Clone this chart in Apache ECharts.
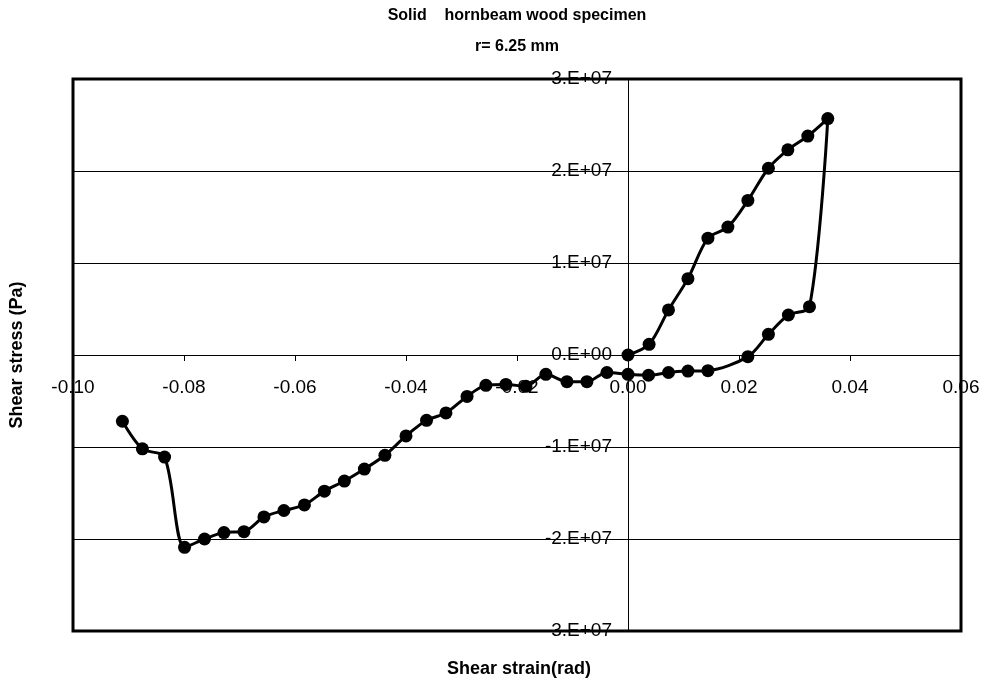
<!DOCTYPE html>
<html>
<head>
<meta charset="utf-8">
<script src="https://cdn.jsdelivr.net/npm/echarts@6/dist/echarts.min.js"></script>
<style>
html,body{margin:0;padding:0;background:#fff;}
#chart{width:989px;height:686px;}
</style>
</head>
<body>
<div id="chart"></div>
<script>
// Shear strain (rad), in drawing order
var strain = [0.0000, 0.0038, 0.0073, 0.0108, 0.0144, 0.0180, 0.0216, 0.0253, 0.0288, 0.0324, 0.0360,
  0.0327, 0.0289, 0.0253, 0.0216,
  0.0144, 0.0108, 0.0073, 0.0037, 0.0000, -0.0038, -0.0074, -0.0110, -0.0148, -0.0184, -0.0220,
  -0.0256, -0.0290, -0.0328, -0.0363, -0.0400, -0.0438, -0.0475, -0.0511, -0.0547, -0.0583,
  -0.0620, -0.0656, -0.0692, -0.0728, -0.0763, -0.0799, -0.0835, -0.0875, -0.0911];
// Shear stress (Pa)
var stress = [0, 1.16e6, 4.9e6, 8.3e6, 12.7e6, 13.9e6, 16.8e6, 20.3e6, 22.3e6, 23.8e6, 25.7e6,
  5.25e6, 4.35e6, 2.25e6, -0.18e6,
  -1.7e6, -1.75e6, -1.9e6, -2.2e6, -2.1e6, -1.9e6, -2.9e6, -2.9e6, -2.1e6, -3.4e6, -3.2e6,
  -3.3e6, -4.5e6, -6.3e6, -7.1e6, -8.8e6, -10.9e6, -12.4e6, -13.7e6, -14.8e6, -16.3e6,
  -16.9e6, -17.6e6, -19.2e6, -19.3e6, -20.0e6, -20.9e6, -11.1e6, -10.2e6, -7.2e6];
var xTickLabels = ['-0.10', '-0.08', '-0.06', '-0.04', '-0.02', '0.00', '0.02', '0.04', '0.06'];
var yTickLabels = ['3.E+07', '-2.E+07', '-1.E+07', '0.E+00', '1.E+07', '2.E+07', '3.E+07'];
var titleText = 'Solid    hornbeam wood specimen';
var subtitleText = 'r= 6.25 mm';
var xName = 'Shear strain(rad)';
var yName = 'Shear stress (Pa)';

var pts = strain.map(function (x, i) { return [x, stress[i]]; });
var FONT = '"Liberation Sans", Arial, sans-serif';

var chart = echarts.init(document.getElementById('chart'));
chart.setOption({
  animation: false,
  backgroundColor: '#fff',
  grid: { left: 73, top: 79, width: 888, height: 552, containLabel: false, outerBoundsMode: 'none',
    show: true, borderColor: '#000', borderWidth: 3, backgroundColor: 'transparent', z: 3 },
  xAxis: {
    type: 'value', min: -0.1, max: 0.06, interval: 0.02,
    position: 'bottom', offset: -276,
    axisLine: { onZero: false, lineStyle: { color: '#000', width: 1 } },
    axisTick: { show: true, inside: false, length: 6, lineStyle: { color: '#000' } },
    axisLabel: { margin: 23, color: '#000', fontFamily: FONT, fontSize: 19, hideOverlap: false,
      formatter: function (v) { return xTickLabels[Math.round((v + 0.1) / 0.02)]; } },
    splitLine: { show: false }
  },
  yAxis: {
    type: 'value', min: -3e7, max: 3e7, interval: 1e7,
    position: 'left', offset: -555,
    axisLine: { onZero: false, lineStyle: { color: '#000', width: 1 } },
    axisTick: { show: false },
    axisLabel: { margin: 16, color: '#000', fontFamily: FONT, fontSize: 19, hideOverlap: false,
      formatter: function (v) { return yTickLabels[Math.round((v + 3e7) / 1e7)]; } },
    splitLine: { show: true, lineStyle: { color: '#000', width: 1 } }
  },
  series: [{
    type: 'line', data: pts, smooth: 0.3,
    symbol: 'circle', symbolSize: 13,
    lineStyle: { color: '#000', width: 3 },
    itemStyle: { color: '#000' },
    z: 5
  }],
  graphic: [
    { type: 'text', x: 517, y: 16, style: { text: titleText, textAlign: 'center', textVerticalAlign: 'middle', font: 'bold 16px ' + FONT, fill: '#000' } },
    { type: 'text', x: 517, y: 47, style: { text: subtitleText, textAlign: 'center', textVerticalAlign: 'middle', font: 'bold 16px ' + FONT, fill: '#000' } },
    { type: 'text', x: 519, y: 669, style: { text: xName, textAlign: 'center', textVerticalAlign: 'middle', font: 'bold 18px ' + FONT, fill: '#000' } },
    { type: 'text', x: 17, y: 355, rotation: Math.PI / 2, style: { text: yName, textAlign: 'center', textVerticalAlign: 'middle', font: 'bold 18px ' + FONT, fill: '#000' } }
  ]
});
</script>
</body>
</html>
